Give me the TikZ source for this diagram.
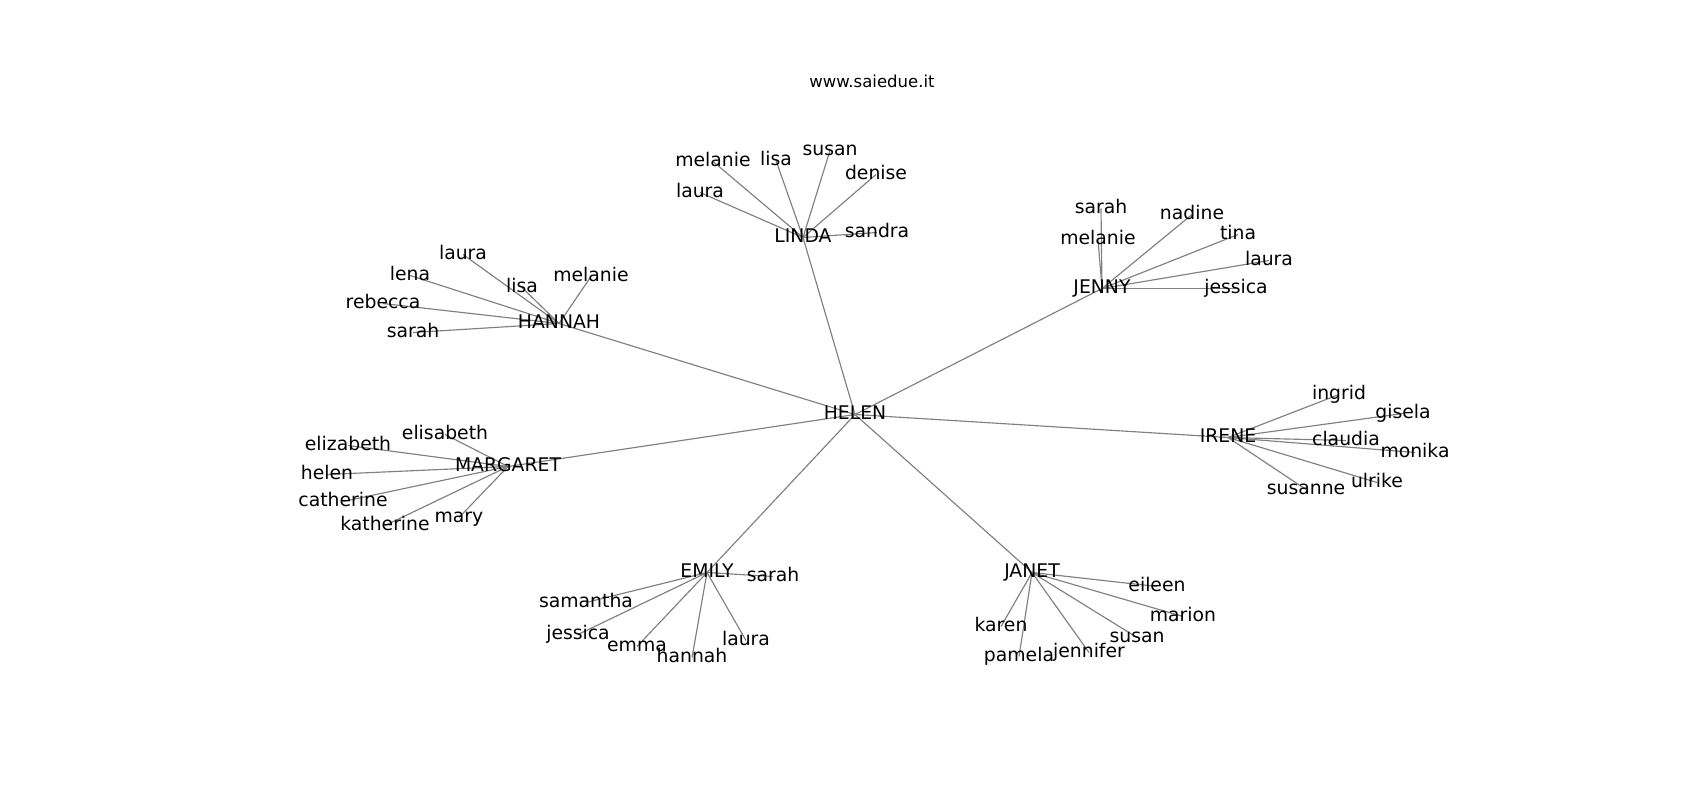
\documentclass[tikz,border=0pt]{standalone}
\usepackage{fontspec}
\setmainfont{DejaVu Sans}
\usetikzlibrary{backgrounds}
\tikzset{
  lbl/.style={inner sep=0pt, outer sep=0pt, anchor=center, yshift=-1.5pt, text height=0.93em, text depth=0pt, font=\fontsize{18.8}{22}\selectfont, text=black},
  ttl/.style={inner sep=0pt, anchor=center, yshift=-2pt, text height=0.73em, text depth=0pt, font=\fontsize{16.5}{19}\selectfont, text=black},
  edge/.style={draw=gray, line width=1.15pt}
}
\begin{document}
\begin{tikzpicture}[x=1pt,y=-1pt]
\useasboundingbox (0,0) rectangle (1700,800);
\node[ttl] (title) at (872,82) {www.saiedue.it};
% hubs
\node[lbl] (helen) at (855,413) {HELEN};
\node[lbl] (linda) at (803,236) {LINDA};
\node[lbl] (hannah) at (559,322) {HANNAH};
\node[lbl] (margaret) at (508,465) {MARGARET};
\node[lbl] (emily) at (707,571) {EMILY};
\node[lbl] (janet) at (1032,571) {JANET};
\node[lbl] (irene) at (1228,436) {IRENE};
\node[lbl] (jenny) at (1102,287) {JENNY};
% linda
\node[lbl] (li1) at (713,160) {melanie};
\node[lbl] (li2) at (776,159) {lisa};
\node[lbl] (li3) at (830,149) {susan};
\node[lbl] (li4) at (876,173) {denise};
\node[lbl] (li5) at (700,191) {laura};
\node[lbl] (li6) at (877,231) {sandra};
% hannah
\node[lbl] (ha1) at (463,253) {laura};
\node[lbl] (ha2) at (410,274) {lena};
\node[lbl] (ha3) at (522,286) {lisa};
\node[lbl] (ha4) at (591,275) {melanie};
\node[lbl] (ha5) at (383,302) {rebecca};
\node[lbl] (ha6) at (413,331) {sarah};
% margaret
\node[lbl] (ma1) at (445,433) {elisabeth};
\node[lbl] (ma2) at (348,444) {elizabeth};
\node[lbl] (ma3) at (327,473) {helen};
\node[lbl] (ma4) at (343,500) {catherine};
\node[lbl] (ma5) at (385,524) {katherine};
\node[lbl] (ma6) at (459,516) {mary};
% jenny
\node[lbl] (je1) at (1101,207) {sarah};
\node[lbl] (je2) at (1098,238) {melanie};
\node[lbl] (je3) at (1192,213) {nadine};
\node[lbl] (je4) at (1238,233) {tina};
\node[lbl] (je5) at (1269,259) {laura};
\node[lbl] (je6) at (1236,287) {jessica};
% irene
\node[lbl] (ir1) at (1339,393) {ingrid};
\node[lbl] (ir2) at (1403,412) {gisela};
\node[lbl] (ir3) at (1346,439) {claudia};
\node[lbl] (ir4) at (1415,451) {monika};
\node[lbl] (ir5) at (1377,481) {ulrike};
\node[lbl] (ir6) at (1306,488) {susanne};
% emily
\node[lbl] (em1) at (773,575) {sarah};
\node[lbl] (em2) at (586,601) {samantha};
\node[lbl] (em3) at (578,633) {jessica};
\node[lbl] (em4) at (637,645) {emma};
\node[lbl] (em5) at (692,656) {hannah};
\node[lbl] (em6) at (746,639) {laura};
% janet
\node[lbl] (ja1) at (1157,585) {eileen};
\node[lbl] (ja2) at (1183,615) {marion};
\node[lbl] (ja3) at (1001,625) {karen};
\node[lbl] (ja4) at (1019,655) {pamela};
\node[lbl] (ja5) at (1089,651) {jennifer};
\node[lbl] (ja6) at (1137,636) {susan};
\begin{pgfonlayer}{background}
\fill[white] (0,0) rectangle (1700,800);
\foreach \h in {linda,hannah,margaret,emily,janet,irene,jenny}
  \draw[edge] (helen.center) -- (\h.center);
\foreach \l in {li1,li2,li3,li4,li5,li6} \draw[edge] (linda.center) -- (\l.center);
\foreach \l in {ha1,ha2,ha3,ha4,ha5,ha6} \draw[edge] (hannah.center) -- (\l.center);
\foreach \l in {ma1,ma2,ma3,ma4,ma5,ma6} \draw[edge] (margaret.center) -- (\l.center);
\foreach \l in {je1,je2,je3,je4,je5,je6} \draw[edge] (jenny.center) -- (\l.center);
\foreach \l in {ir1,ir2,ir3,ir4,ir5,ir6} \draw[edge] (irene.center) -- (\l.center);
\foreach \l in {em1,em2,em3,em4,em5,em6} \draw[edge] (emily.center) -- (\l.center);
\foreach \l in {ja1,ja2,ja3,ja4,ja5,ja6} \draw[edge] (janet.center) -- (\l.center);
\end{pgfonlayer}
\end{tikzpicture}
\end{document}
